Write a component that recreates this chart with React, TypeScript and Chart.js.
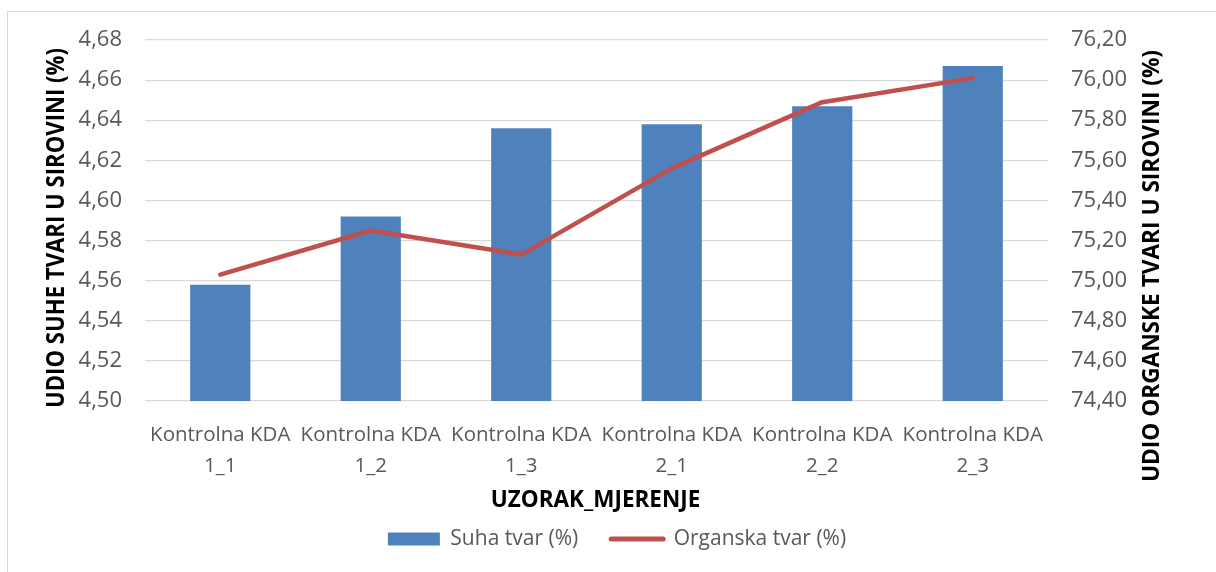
import React, { useEffect, useRef } from "react";
import { Chart, registerables } from "chart.js";

Chart.register(...registerables);

// ---- data ----
const categories: string[][] = [
  ["Kontrolna KDA", "1_1"],
  ["Kontrolna KDA", "1_2"],
  ["Kontrolna KDA", "1_3"],
  ["Kontrolna KDA", "2_1"],
  ["Kontrolna KDA", "2_2"],
  ["Kontrolna KDA", "2_3"],
];
const suhaTvar: number[] = [4.558, 4.592, 4.636, 4.638, 4.647, 4.667];
const organskaTvar: number[] = [75.03, 75.25, 75.13, 75.56, 75.89, 76.01];
const seriesNames: string[] = ["Suha tvar (%)", "Organska tvar (%)"];

const leftMin = 4.5;
const leftMax = 4.68;
const leftStep = 0.02;
const rightMin = 74.4;
const rightMax = 76.2;
const rightStep = 0.2;

const xTitle = "UZORAK_MJERENJE";
const yTitle = "UDIO SUHE TVARI U SIROVINI (%)";
const y1Title = "UDIO ORGANSKE TVARI U SIROVINI (%)";

// ---- style ----
const W = 1216;
const H = 572;
const barColor = "#4F81BD";
const lineColor = "#C0504D";
const gridColor = "#D9D9D9";
const tickColor = "#595959";
const FONT = "'Open Sans', 'Noto Sans', sans-serif";
const PAD_BOTTOM = 12.5;
const PLOT_BOTTOM = 401;

const fmt = (v: number) => v.toFixed(2).replace(".", ",");

function drawTitle(
  ctx: CanvasRenderingContext2D,
  text: string,
  x: number,
  y: number,
  rot: number,
  size: number,
  len: number
) {
  ctx.save();
  ctx.translate(x, y);
  ctx.rotate(rot);
  ctx.font = `bold ${size}px ${FONT}`;
  ctx.fillStyle = "#000000";
  ctx.textAlign = "center";
  ctx.textBaseline = "middle";
  ctx.fillText(text, 0, 0, len);
  ctx.restore();
}

const decorPlugin = {
  id: "decor",
  beforeDraw(chart: any) {
    const ctx = chart.ctx as CanvasRenderingContext2D;
    ctx.save();
    ctx.fillStyle = "#ffffff";
    ctx.fillRect(0, 0, chart.width, chart.height);
    ctx.strokeStyle = gridColor;
    ctx.lineWidth = 1;
    ctx.strokeRect(7.5, 11.5, chart.width + 20, chart.height + 20);
    ctx.restore();
  },
  afterDraw(chart: any) {
    const ctx = chart.ctx as CanvasRenderingContext2D;
    drawTitle(ctx, yTitle, 57, 228, -Math.PI / 2, 25, 360);
    drawTitle(ctx, y1Title, 1152, 266, -Math.PI / 2, 24, 432);
    drawTitle(ctx, xTitle, 595.5, 501, 0, 22.5, 217);
  },
};

export default function App() {
  const canvasRef = useRef<HTMLCanvasElement | null>(null);

  useEffect(() => {
    const canvas = canvasRef.current;
    if (!canvas) return;
    const chart = new Chart(canvas, {
      type: "bar",
      data: {
        labels: categories,
        datasets: [
          {
            type: "bar",
            label: seriesNames[0],
            data: suhaTvar,
            backgroundColor: barColor,
            borderWidth: 0,
            yAxisID: "y",
            order: 1,
            barPercentage: 0.4,
            categoryPercentage: 1.0,
          },
          {
            type: "line",
            label: seriesNames[1],
            data: organskaTvar,
            borderColor: lineColor,
            backgroundColor: lineColor,
            borderWidth: 4.5,
            borderCapStyle: "round",
            borderJoinStyle: "round",
            pointRadius: 0,
            pointHoverRadius: 0,
            tension: 0,
            yAxisID: "y1",
            order: 0,
          },
        ],
      },
      options: {
        responsive: false,
        animation: false,
        devicePixelRatio: 1,
        layout: { padding: { top: 40, left: 18, right: 0, bottom: PAD_BOTTOM } },
        plugins: {
          tooltip: { enabled: false },
          legend: {
            display: true,
            position: "bottom",
            labels: {
              usePointStyle: true,
              pointStyleWidth: 52,
              boxHeight: 13,
              padding: 33,
              color: tickColor,
              font: { family: FONT, size: 21 },
              generateLabels: () => [
                {
                  text: seriesNames[0],
                  fillStyle: barColor,
                  strokeStyle: barColor,
                  lineWidth: 0,
                  pointStyle: "rect",
                  datasetIndex: 0,
                  hidden: false,
                  fontColor: tickColor,
                },
                {
                  text: seriesNames[1],
                  fillStyle: lineColor,
                  strokeStyle: lineColor,
                  lineWidth: 5,
                  lineCap: "round",
                  pointStyle: "line",
                  datasetIndex: 1,
                  hidden: false,
                  fontColor: tickColor,
                },
              ],
            },
          },
        },
        scales: {
          x: {
            type: "category",
            offset: true,
            grid: { display: false, drawTicks: false },
            border: { display: false },
            ticks: {
              color: tickColor,
              font: { family: FONT, size: 20.5, lineHeight: 1.54 },
              padding: 18,
              maxRotation: 0,
              autoSkip: false,
            },
            afterFit: (scale: any) => {
              const lh = scale.chart.legend ? scale.chart.legend.height : 0;
              scale.height = Math.max(0, H - PAD_BOTTOM - lh - PLOT_BOTTOM);
            },
          },
          y: {
            type: "linear",
            position: "left",
            min: leftMin,
            max: leftMax,
            grid: { color: gridColor, lineWidth: 1.2, drawTicks: false },
            border: { display: false },
            ticks: {
              stepSize: leftStep,
              color: tickColor,
              font: { family: FONT, size: 22 },
              padding: 23,
              callback: (v: any) => fmt(Number(v)),
            },
            afterFit: (scale: any) => {
              scale.width = 145 - 18;
            },
          },
          y1: {
            type: "linear",
            position: "right",
            min: rightMin,
            max: rightMax,
            grid: { display: false, drawTicks: false },
            border: { display: false },
            ticks: {
              stepSize: rightStep,
              color: tickColor,
              font: { family: FONT, size: 22 },
              padding: 23,
              callback: (v: any) => fmt(Number(v)),
            },
            afterFit: (scale: any) => {
              scale.width = W - 1048;
            },
          },
        },
      },
      plugins: [decorPlugin],
    } as any);
    return () => chart.destroy();
  }, []);

  return (
    <div style={{ position: "fixed", left: 0, top: 0, width: W, height: H, background: "#fff" }}>
      <canvas ref={canvasRef} width={W} height={H} style={{ display: "block", width: W, height: H }} />
    </div>
  );
}
